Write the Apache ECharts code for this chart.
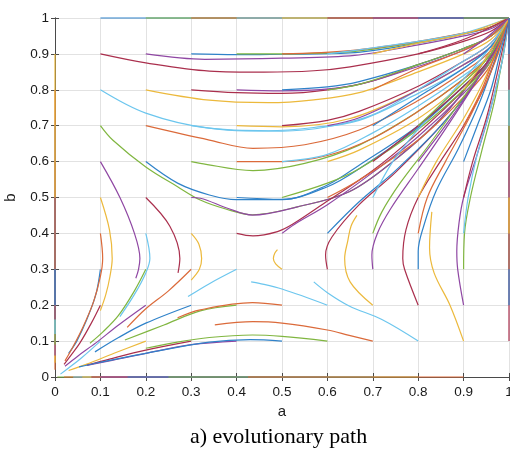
<!DOCTYPE html>
<html>
<head>
<meta charset="utf-8">
<script src="https://cdn.jsdelivr.net/npm/echarts@6.0.0/dist/echarts.min.js"></script>
<style>
html, body { margin: 0; padding: 0; background: #fff; }
#chart { width: 510px; height: 449px; }
</style>
</head>
<body>
<div id="chart"></div>
<script>
// tick labels (both axes)
var tickLabels = ['0', '0.1', '0.2', '0.3', '0.4', '0.5', '0.6', '0.7', '0.8', '0.9', '1'];

// paths, one list per start column a0, index = start b0*10
// a0 = 0 (left edge)
var col00 = [
  [],
  [[0, 0.1], [0, 0.02]],
  [[0, 0.2], [0, 0.04]],
  [[0, 0.3], [0, 0.06]],
  [[0, 0.4], [0, 0.09]],
  [[0, 0.5], [0, 0.12]],
  [[0, 0.6], [0, 0.16]],
  [[0, 0.7], [0, 0.2]],
  [[0, 0.8], [0, 0.3]],
  [[0, 0.9], [0, 0.5]],
  []
];
var col01 = [
  [[0.1, 0], [0.005, 0]],
  [[0.1, 0.1], [0.06, 0.055], [0.03, 0.025], [0.012, 0.008]],
  [[0.1, 0.2], [0.08, 0.15], [0.055, 0.095], [0.035, 0.06], [0.02, 0.035]],
  [[0.1, 0.3], [0.09, 0.23], [0.07, 0.16], [0.048, 0.1], [0.03, 0.066]],
  [[0.1, 0.4], [0.105, 0.33], [0.1, 0.28], [0.085, 0.21], [0.062, 0.14], [0.04, 0.085], [0.022, 0.045]],
  [[0.1, 0.5], [0.12, 0.41], [0.126, 0.33], [0.121, 0.28], [0.112, 0.23], [0.1, 0.185]],
  [[0.1, 0.6], [0.143, 0.5], [0.175, 0.4], [0.187, 0.33], [0.184, 0.3], [0.178, 0.275]],
  [[0.1, 0.7], [0.127, 0.66], [0.2, 0.585], [0.27, 0.53], [0.32, 0.493], [0.376, 0.468], [0.435, 0.452], [0.534, 0.474], [0.648, 0.516], [0.744, 0.6], [0.85, 0.72], [0.93, 0.85], [1, 1]],
  [[0.1, 0.8], [0.2, 0.735], [0.34, 0.693], [0.47, 0.686], [0.57, 0.695], [0.67, 0.715], [0.8, 0.79], [0.9, 0.86], [0.96, 0.92], [1, 1]],
  [[0.1, 0.9], [0.2, 0.875], [0.34, 0.852], [0.46, 0.849], [0.57, 0.853], [0.65, 0.864], [0.8, 0.9], [0.9, 0.935], [0.96, 0.963], [1, 1]],
  [[0.1, 1], [1, 1]]
];
var col02 = [
  [[0.2, 0], [0.02, 0]],
  [[0.2, 0.1], [0.13, 0.066], [0.07, 0.036], [0.03, 0.018]],
  [[0.2, 0.2], [0.14, 0.145], [0.09, 0.095], [0.05, 0.058], [0.022, 0.03]],
  [[0.2, 0.3], [0.175, 0.24], [0.139, 0.17], [0.105, 0.125], [0.077, 0.094]],
  [[0.2, 0.4], [0.209, 0.33], [0.2, 0.29], [0.175, 0.23], [0.143, 0.168]],
  [[0.2, 0.5], [0.253, 0.42], [0.275, 0.33], [0.271, 0.29]],
  [[0.2, 0.6], [0.27, 0.54], [0.34, 0.507], [0.4, 0.494], [0.5, 0.494], [0.6, 0.535], [0.67, 0.59], [0.8, 0.7], [0.9, 0.81], [0.96, 0.89], [1, 1]],
  [[0.2, 0.7], [0.34, 0.66], [0.436, 0.637], [0.55, 0.647], [0.67, 0.688], [0.8, 0.77], [0.9, 0.85], [0.96, 0.91], [1, 1]],
  [[0.2, 0.8], [0.34, 0.771], [0.47, 0.764], [0.57, 0.772], [0.67, 0.792], [0.8, 0.85], [0.9, 0.9], [0.96, 0.94], [1, 1]],
  [[0.2, 0.9], [0.33, 0.885], [0.5, 0.888], [0.66, 0.896], [0.8, 0.925], [0.9, 0.95], [0.96, 0.97], [1, 1]],
  [[0.2, 1], [1, 1]]
];
var col03 = [
  [[0.3, 0], [0.04, 0]],
  [[0.3, 0.1], [0.2, 0.075], [0.12, 0.05], [0.07, 0.033]],
  [[0.3, 0.2], [0.2, 0.15], [0.14, 0.11], [0.088, 0.07]],
  [[0.3, 0.3], [0.25, 0.24], [0.2, 0.19], [0.159, 0.138]],
  [[0.3, 0.4], [0.317, 0.37], [0.323, 0.33], [0.318, 0.3], [0.3, 0.27]],
  [[0.3, 0.5], [0.32, 0.498], [0.38, 0.47], [0.435, 0.451], [0.534, 0.474], [0.648, 0.516], [0.744, 0.6], [0.85, 0.72], [0.93, 0.85], [1, 1]],
  [[0.3, 0.6], [0.32, 0.595], [0.436, 0.575], [0.55, 0.595], [0.67, 0.646], [0.8, 0.74], [0.9, 0.83], [0.96, 0.9], [1, 1]],
  [[0.3, 0.7], [0.4, 0.686], [0.5, 0.685], [0.6, 0.697], [0.7, 0.73], [0.8, 0.8], [0.9, 0.87], [0.96, 0.92], [1, 1]],
  [[0.3, 0.8], [0.4, 0.792], [0.5, 0.79], [0.6, 0.8], [0.7, 0.825], [0.8, 0.87], [0.9, 0.915], [0.96, 0.95], [1, 1]],
  [[0.3, 0.9], [0.4, 0.898], [0.5, 0.899], [0.65, 0.903], [0.8, 0.93], [0.9, 0.955], [0.96, 0.975], [1, 1]],
  [[0.3, 1], [1, 1]]
];
var col04 = [
  [[0.4, 0], [0.06, 0]],
  [[0.4, 0.1], [0.3, 0.09], [0.2, 0.066], [0.12, 0.045], [0.07, 0.032]],
  [[0.4, 0.2], [0.32, 0.184], [0.24, 0.145], [0.154, 0.103]],
  [[0.4, 0.3], [0.34, 0.26], [0.293, 0.224]],
  [[0.4, 0.4], [0.436, 0.393], [0.49, 0.405], [0.524, 0.426], [0.6, 0.49], [0.7, 0.575], [0.8, 0.68], [0.9, 0.8], [0.96, 0.89], [1, 1]],
  [[0.4, 0.5], [0.5, 0.495], [0.6, 0.53], [0.67, 0.58], [0.8, 0.695], [0.9, 0.81], [0.96, 0.89], [1, 1]],
  [[0.4, 0.6], [0.5, 0.6], [0.6, 0.617], [0.7, 0.665], [0.8, 0.74], [0.9, 0.83], [0.96, 0.9], [1, 1]],
  [[0.4, 0.7], [0.5, 0.697], [0.65, 0.72], [0.8, 0.8], [0.9, 0.87], [0.96, 0.92], [1, 1]],
  [[0.4, 0.8], [0.5, 0.797], [0.65, 0.81], [0.8, 0.865], [0.9, 0.91], [0.96, 0.95], [1, 1]],
  [[0.4, 0.9], [0.5, 0.9], [0.65, 0.906], [0.8, 0.933], [0.9, 0.957], [0.96, 0.975], [1, 1]],
  [[0.4, 1], [1, 1]]
];
var col05 = [
  [[0.5, 0], [0.08, 0]],
  [[0.5, 0.1], [0.43, 0.104], [0.34, 0.097], [0.2, 0.066], [0.1, 0.041], [0.053, 0.028]],
  [[0.5, 0.2], [0.435, 0.207], [0.32, 0.187], [0.27, 0.165]],
  [[0.5, 0.3], [0.486, 0.315], [0.481, 0.33], [0.484, 0.345], [0.49, 0.355]],
  [[0.5, 0.4], [0.527, 0.425], [0.6, 0.48], [0.7, 0.57], [0.8, 0.67], [0.9, 0.79], [0.96, 0.88], [1, 1]],
  [[0.5, 0.5], [0.6, 0.54], [0.67, 0.58], [0.8, 0.69], [0.9, 0.8], [0.96, 0.88], [1, 1]],
  [[0.5, 0.6], [0.6, 0.62], [0.7, 0.68], [0.8, 0.755], [0.9, 0.84], [0.96, 0.9], [1, 1]],
  [[0.5, 0.7], [0.6, 0.715], [0.67, 0.74], [0.8, 0.81], [0.9, 0.88], [0.96, 0.93], [1, 1]],
  [[0.5, 0.8], [0.6, 0.808], [0.67, 0.823], [0.8, 0.87], [0.9, 0.915], [0.96, 0.95], [1, 1]],
  [[0.5, 0.9], [0.65, 0.909], [0.8, 0.935], [0.9, 0.958], [0.96, 0.975], [1, 1]],
  [[0.5, 1], [1, 1]]
];
var col06 = [
  [[0.6, 0], [0.1, 0]],
  [[0.6, 0.1], [0.5, 0.113], [0.435, 0.117], [0.34, 0.11], [0.26, 0.095], [0.2, 0.08]],
  [[0.6, 0.2], [0.5, 0.245], [0.45, 0.261], [0.432, 0.265]],
  [[0.6, 0.3], [0.596, 0.34], [0.61, 0.39], [0.67, 0.48], [0.75, 0.57], [0.85, 0.7], [0.93, 0.83], [1, 1]],
  [[0.6, 0.4], [0.67, 0.488], [0.75, 0.575], [0.85, 0.7], [0.93, 0.83], [1, 1]],
  [[0.6, 0.5], [0.67, 0.549], [0.8, 0.66], [0.9, 0.78], [0.96, 0.87], [1, 1]],
  [[0.6, 0.6], [0.67, 0.632], [0.8, 0.72], [0.9, 0.82], [0.96, 0.9], [1, 1]],
  [[0.6, 0.7], [0.67, 0.722], [0.8, 0.8], [0.9, 0.87], [0.96, 0.92], [1, 1]],
  [[0.6, 0.8], [0.67, 0.815], [0.8, 0.87], [0.9, 0.915], [0.96, 0.95], [1, 1]],
  [[0.6, 0.9], [0.8, 0.935], [0.9, 0.958], [1, 1]],
  [[0.6, 1], [1, 1]]
];
var col07 = [
  [[0.7, 0], [0.16, 0]],
  [[0.7, 0.1], [0.648, 0.116], [0.6, 0.131], [0.5, 0.15], [0.436, 0.154], [0.352, 0.145]],
  [[0.7, 0.2], [0.65, 0.265], [0.638, 0.33], [0.645, 0.38], [0.652, 0.42], [0.665, 0.45]],
  [[0.7, 0.3], [0.698, 0.34], [0.71, 0.4], [0.74, 0.47], [0.8, 0.58], [0.87, 0.71], [0.94, 0.85], [1, 1]],
  [[0.7, 0.4], [0.72, 0.46], [0.76, 0.54], [0.82, 0.64], [0.9, 0.78], [0.96, 0.89], [1, 1]],
  [[0.7, 0.5], [0.744, 0.6], [0.8, 0.69], [0.9, 0.83], [0.96, 0.92], [1, 1]],
  [[0.7, 0.6], [0.8, 0.7], [0.9, 0.81], [0.96, 0.89], [1, 1]],
  [[0.7, 0.7], [0.8, 0.78], [0.9, 0.86], [0.96, 0.92], [1, 1]],
  [[0.7, 0.8], [0.8, 0.86], [0.9, 0.91], [0.96, 0.95], [1, 1]],
  [[0.7, 0.9], [0.8, 0.93], [0.9, 0.955], [1, 1]],
  [[0.7, 1], [1, 1]]
];
var col08 = [
  [[0.8, 0], [0.25, 0]],
  [[0.8, 0.1], [0.72, 0.16], [0.648, 0.198], [0.6, 0.235], [0.57, 0.265]],
  [[0.8, 0.2], [0.77, 0.3], [0.766, 0.33], [0.773, 0.41], [0.8, 0.5], [0.846, 0.595], [0.9, 0.7], [0.95, 0.82], [1, 1]],
  [[0.8, 0.3], [0.8, 0.35], [0.812, 0.42], [0.84, 0.52], [0.89, 0.64], [0.94, 0.78], [1, 1]],
  [[0.8, 0.4], [0.82, 0.5], [0.86, 0.6], [0.92, 0.74], [0.97, 0.88], [1, 1]],
  [[0.8, 0.5], [0.84, 0.6], [0.9, 0.72], [0.95, 0.84], [1, 1]],
  [[0.8, 0.6], [0.86, 0.7], [0.92, 0.81], [0.97, 0.91], [1, 1]],
  [[0.8, 0.7], [0.9, 0.82], [0.96, 0.9], [1, 1]],
  [[0.8, 0.8], [0.9, 0.88], [0.96, 0.93], [1, 1]],
  [[0.8, 0.9], [0.9, 0.94], [1, 1]],
  [[0.8, 1], [1, 1]]
];
var col09 = [
  [[0.9, 0], [0.425, 0]],
  [[0.9, 0.1], [0.87, 0.2], [0.835, 0.29], [0.825, 0.36], [0.83, 0.46]],
  [[0.9, 0.2], [0.887, 0.3], [0.885, 0.35], [0.89, 0.43], [0.9, 0.5], [0.93, 0.62], [0.96, 0.75], [0.985, 0.88], [1, 1]],
  [[0.9, 0.3], [0.902, 0.4], [0.915, 0.5], [0.94, 0.63], [0.97, 0.78], [1, 1]],
  [[0.9, 0.4], [0.91, 0.5], [0.93, 0.62], [0.96, 0.75], [0.985, 0.88], [1, 1]],
  [[0.9, 0.5], [0.92, 0.6], [0.95, 0.72], [0.975, 0.85], [1, 1]],
  [[0.9, 0.6], [0.93, 0.7], [0.96, 0.8], [0.98, 0.9], [1, 1]],
  [[0.9, 0.7], [0.94, 0.8], [0.97, 0.9], [1, 1]],
  [[0.9, 0.8], [0.95, 0.89], [1, 1]],
  [[0.9, 0.9], [0.95, 0.945], [1, 1]],
  [[0.9, 1], [1, 1]]
];
// a0 = 1 (right edge)
var col10 = [
  [],
  [[1, 0.1], [1, 1]],
  [[1, 0.2], [1, 1]],
  [[1, 0.3], [1, 1]],
  [[1, 0.4], [1, 1]],
  [[1, 0.5], [1, 1]],
  [[1, 0.6], [1, 1]],
  [[1, 0.7], [1, 1]],
  [[1, 0.8], [1, 1]],
  [[1, 0.9], [1, 1]],
  []
];

var columns = [col00, col01, col02, col03, col04, col05, col06, col07, col08, col09, col10];
var lineColors = ['#2f82c9', '#db6a3a', '#ecb93c', '#8f47a3', '#80b640', '#6cc6ee', '#aa2f4d'];

var series = [];
var k = 0;
columns.forEach(function (col) {
  col.forEach(function (path) {
    var c = lineColors[k % 7];
    k++;
    if (!path.length) return;
    series.push({
      type: 'line',
      data: path,
      showSymbol: false,
      smooth: 0.35,
      clip: false,
      silent: true,
      lineStyle: { width: 1.2, color: c }
    });
  });
});

var labelStyle = {
  color: '#1a1a1a',
  fontSize: 13.5,
  fontFamily: 'Liberation Sans, Arial, sans-serif'
};

var chart = echarts.init(document.getElementById('chart'));
chart.setOption({
  animation: false,
  backgroundColor: '#fff',
  title: {
    text: 'a) evolutionary path',
    left: 185,
    top: 421,
    textStyle: {
      fontFamily: 'Liberation Serif, Times New Roman, serif',
      fontWeight: 'normal',
      fontSize: 22,
      color: '#000'
    }
  },
  grid: { left: 55, right: 1, top: 18, bottom: 72, containLabel: false, outerBoundsMode: 'none' },
  xAxis: [{
    type: 'value', min: 0, max: 1, interval: 0.1,
    name: 'a', nameLocation: 'middle', nameGap: 26,
    nameTextStyle: { color: '#1a1a1a', fontSize: 15, fontFamily: 'Liberation Sans, Arial, sans-serif' },
    axisLine: { show: true, lineStyle: { color: '#4a4a4a', width: 1 } },
    axisTick: { show: true, inside: true, length: 4, lineStyle: { color: '#4a4a4a' } },
    axisLabel: Object.assign({ margin: 8, formatter: function (v) { return tickLabels[Math.round(v * 10)]; } }, labelStyle),
    splitLine: { show: true, lineStyle: { color: '#e2e2e2', width: 1 } }
  }, {
    type: 'value', min: 0, max: 1, interval: 0.1, position: 'top',
    axisLine: { show: true, lineStyle: { color: '#4a4a4a', width: 1 } },
    axisTick: { show: true, inside: true, length: 4, lineStyle: { color: '#4a4a4a' } },
    axisLabel: { show: false },
    splitLine: { show: false }
  }],
  yAxis: [{
    type: 'value', min: 0, max: 1, interval: 0.1,
    name: 'b', nameLocation: 'middle', nameGap: 37, nameRotate: 90,
    nameTextStyle: { color: '#1a1a1a', fontSize: 15, fontFamily: 'Liberation Sans, Arial, sans-serif' },
    axisLine: { show: true, lineStyle: { color: '#4a4a4a', width: 1 } },
    axisTick: { show: true, inside: true, length: 4, lineStyle: { color: '#4a4a4a' } },
    axisLabel: Object.assign({ margin: 6, formatter: function (v) { return tickLabels[Math.round(v * 10)]; } }, labelStyle),
    splitLine: { show: true, lineStyle: { color: '#e2e2e2', width: 1 } }
  }, {
    type: 'value', min: 0, max: 1, interval: 0.1, position: 'right',
    axisLine: { show: true, lineStyle: { color: '#4a4a4a', width: 1 } },
    axisTick: { show: true, inside: true, length: 4, lineStyle: { color: '#4a4a4a' } },
    axisLabel: { show: false },
    splitLine: { show: false }
  }],
  series: series
});
</script>
</body>
</html>
